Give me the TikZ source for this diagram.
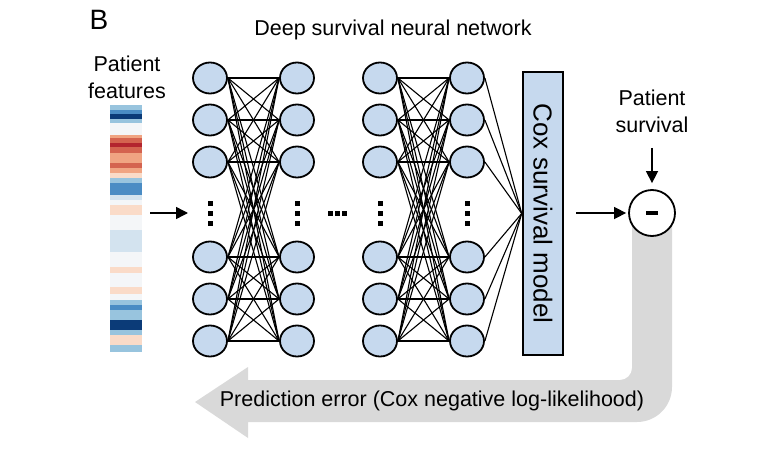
\documentclass[tikz,border=0pt]{standalone}
\usepackage{fontspec,graphicx}
\setmainfont{Liberation Sans}
\usetikzlibrary{arrows.meta,positioning,shapes.geometric}
\definecolor{nodeblue}{HTML}{C6D9EE}
\definecolor{errgray}{HTML}{D9D9D9}
\definecolor{fdb}{HTML}{0B3B78}
\definecolor{fmb}{HTML}{4A8CC4}
\definecolor{flb}{HTML}{98C4DE}
\definecolor{fpb}{HTML}{D3E3EF}
\definecolor{fwt}{HTML}{F4F6F8}
\definecolor{fpp}{HTML}{FADBC8}
\definecolor{fsa}{HTML}{F0A482}
\definecolor{frm}{HTML}{D4634F}
\definecolor{fdr}{HTML}{B3242E}
\tikzset{
  neuron/.style={ellipse,draw,line width=1.8pt,fill=nodeblue,minimum width=34pt,minimum height=31pt,inner sep=0pt},
  coxblk/.style={draw,rectangle,line width=2.6pt,fill=nodeblue,minimum width=40pt,minimum height=283pt,inner sep=0pt},
  featblk/.style={rectangle,minimum width=32pt,minimum height=247pt,inner sep=0pt},
  mnsnode/.style={circle,draw,line width=1.8pt,fill=white,minimum size=46pt,inner sep=0pt},
  dotpt/.style={inner sep=0pt,minimum size=1pt},
  wire/.style={line width=1.1pt},
  arr/.style={-{Triangle[length=12pt,width=12pt]},line width=1.5pt},
  lbl/.style={font=\fontsize{21.5}{27}\selectfont,align=center}
}

\begin{document}
\begin{tikzpicture}[x=1pt,y=-1pt]
  \useasboundingbox (0,0) rectangle (778,449);

  % feedback arrow (behind everything)
  \fill[errgray] (632,213) -- (632,368) .. controls (632,374.6) and (626.6,380) .. (620,380)
    -- (248,380) -- (248,367) -- (195,402) -- (248,438) -- (248,422)
    -- (637,422) .. controls (656.3,422) and (672,406.3) .. (672,387) -- (672,213) -- cycle;
  \node[lbl] (err) at (432,401) {Prediction error (Cox negative log-likelihood)};

  % titles
  \node[font=\fontsize{28}{30}\selectfont] (panel) at (99,20) {B};
  \node[lbl] (title) at (393,30) {Deep survival neural network};
  \node[lbl] (featlbl) at (127,77) {Patient\\features};
  \node[lbl] (survlbl) at (652,111) {Patient\\survival};

  % patient feature bar
  \node[featblk] (feat) at (126,228.5) {};
  \foreach \ya/\yb/\col in {105/110/flb,110/114/fmb,114/119/fdb,119/123/flb,123/135/fwt,
      135/138/fsa,138/143/frm,143/147/fdr,147/153/frm,153/163/fsa,163/168/frm,168/173/fsa,
      173/178/fpp,178/183/flb,183/195/fmb,195/200/fpb,200/205/fwt,205/215/fpp,215/230/fwt,
      230/252/fpb,252/267/fwt,267/273/fpp,273/287/fwt,287/294/fpp,294/300/fwt,300/305/flb,
      305/310/fmb,310/320/flb,320/330/fdb,330/335/flb,335/345/fpp,345/352/flb}
    \fill[\col] (110,\ya) rectangle (142,\yb);

  % network layers
  \foreach \lay/\x in {1/210,2/297,3/380,4/467}{
    \foreach \i/\y in {1/78,2/120,3/162,4/257,5/299,6/341}
      \node[neuron] (l\lay n\i) at (\x,\y) {};
    \node[dotpt] (l\lay d) at (\x,213) {};
    \foreach \dy in {-10,0,10}
      \fill ([yshift=\dy pt]l\lay d.center) +(-2.5,-2.5) rectangle +(2.5,2.5);
  }
  \node[dotpt] (hdots) at (337,213) {};
  \foreach \dx in {-7,0,7}
    \fill ([xshift=\dx pt]hdots.center) +(-2.5,-2.5) rectangle +(2.5,2.5);

  \node[coxblk] (cox) at (543,213.5) {\fontsize{26}{30}\selectfont\rotatebox{-90}{Cox survival model}};
  \node[mnsnode] (mns) at (652,213) {\rule{12pt}{4pt}};

  % connections
  \foreach \i in {1,...,6}
    \foreach \j in {1,...,6}{
      \draw[wire] (l1n\i.east) -- (l2n\j.west);
      \draw[wire] (l3n\i.east) -- (l4n\j.west);
    }
  \foreach \i in {1,...,6}
    \draw[wire] (l4n\i.east) -- (cox.west);

  \draw[arr,shorten <=8pt,shorten >=22pt] (feat.east |- l1d) -- (l1d.center);
  \draw[arr,shorten <=12pt,shorten >=2pt] (cox.east |- mns) -- (mns.west);
  \draw[arr,shorten <=12pt,shorten >=6pt] (survlbl.south) -- (mns.north);
\end{tikzpicture}
\end{document}
